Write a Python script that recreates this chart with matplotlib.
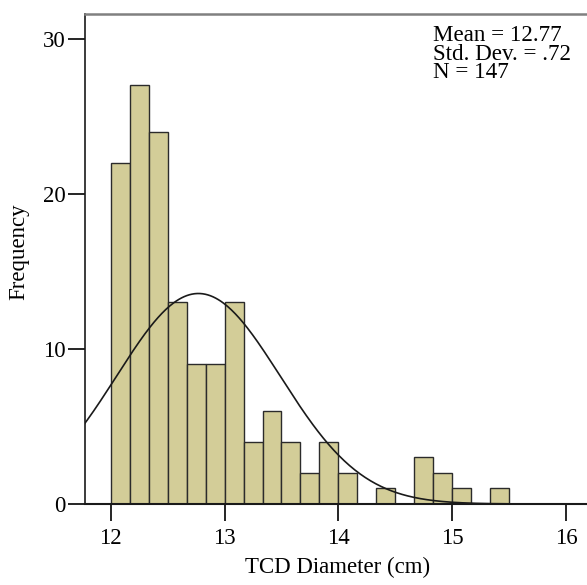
import numpy as np
import matplotlib
matplotlib.use('Agg')
import matplotlib.pyplot as plt

# histogram counts, bins of width 1/6 cm starting at 12.0
counts = [22, 27, 24, 13, 9, 9, 13, 4, 6, 4, 2, 4, 2, 0, 1, 0, 3, 2, 1, 0, 1]
bin_start = 12.0
bin_width = 1 / 6

# summary stats shown in the legend box
mean = 12.77
std = 0.72
n = 147

x_ticks = [12, 13, 14, 15, 16]
y_ticks = [0, 10, 20, 30]

plt.rcParams['font.family'] = ['Liberation Serif', 'DejaVu Serif']

fig = plt.figure(figsize=(5.87, 5.85), dpi=100)
ax = fig.add_axes([85 / 587, 1 - 504 / 585, 505 / 587, 490 / 585])

edges = bin_start + bin_width * np.arange(len(counts))
ax.bar(edges, counts, width=bin_width, align='edge',
       color='#d3cd98', edgecolor='#2b2b2b', linewidth=1.0, zorder=2)

# fitted normal curve scaled to the histogram
xs = np.linspace(11.7, 16.3, 400)
pdf = np.exp(-0.5 * ((xs - mean) / std) ** 2) / (std * np.sqrt(2 * np.pi))
ax.plot(xs, pdf * n * bin_width, color='#1a1a1a', linewidth=1.2, zorder=3)

ax.set_xlim(11.774, 16.21)
ax.set_ylim(0, 31.6)
ax.set_xticks(x_ticks)
ax.set_yticks(y_ticks)
ax.tick_params(axis='x', length=12, width=1.2, labelsize=16.5, pad=5)
ax.tick_params(axis='y', length=12, width=1.2, labelsize=16.5, pad=2)

ax.spines['right'].set_visible(False)
ax.spines['top'].set_color('#808080')
ax.spines['top'].set_linewidth(1.8)
ax.spines['left'].set_color('#1a1a1a')
ax.spines['left'].set_linewidth(1.2)
ax.spines['bottom'].set_color('#1a1a1a')
ax.spines['bottom'].set_linewidth(1.5)

ax.set_xlabel('TCD Diameter (cm)', fontsize=16.5, labelpad=6)
ax.set_ylabel('Frequency', fontsize=16.5, labelpad=10)
ax.yaxis.set_label_coords(-0.11, 0.515)

ax.text(0.689, 0.977, f'Mean = {mean}\nStd. Dev. = {str(std)[1:]}\nN = {n}',
        transform=ax.transAxes, ha='left', va='top', fontsize=16.6,
        linespacing=0.84)

fig.savefig('out.png', dpi=100)
